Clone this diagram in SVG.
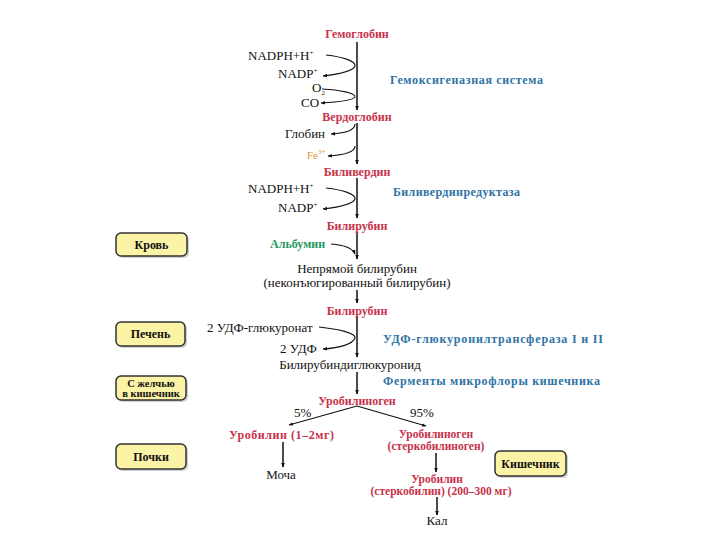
<svg xmlns="http://www.w3.org/2000/svg" width="720" height="540" viewBox="0 0 720 540" font-family="'Liberation Serif','Times New Roman','DejaVu Serif',serif">
<style>
text{font-family:'Liberation Serif','Times New Roman','DejaVu Serif',serif;}
.r{fill:#c8324a;font-weight:bold;font-size:12px;text-anchor:middle;}
.r2{fill:#c8324a;font-weight:bold;font-size:11.5px;text-anchor:middle;}
.rs{fill:#c8324a;font-weight:bold;font-size:12px;}
.b{fill:#2e74a6;font-weight:bold;font-size:12px;}
.k{fill:#111;font-size:13px;}
.km{fill:#111;font-size:13px;text-anchor:middle;}
.g{fill:#1f9a5e;font-weight:bold;font-size:12px;}
.o{fill:#e39a30;font-size:11px;}
.sup{font-size:7px;}
.box{fill:#fbf3a6;stroke:#333;stroke-width:1.5;}
.shadow{fill:#999;opacity:0.45;}
.bt{fill:#111;font-weight:bold;font-size:12px;text-anchor:middle;}
.bt2{fill:#111;font-weight:bold;font-size:10.5px;text-anchor:middle;}
.ln{stroke:#111;stroke-width:1.5;fill:none;}
.cv{stroke:#111;stroke-width:1.1;fill:none;}
</style>
<defs>
<marker id="ah" viewBox="0 0 10 10" refX="9" refY="5" markerWidth="5" markerHeight="5" orient="auto" markerUnits="userSpaceOnUse">
<path d="M0,1 L10,5 L0,9 z" fill="#111"/>
</marker>
<marker id="ahs" viewBox="0 0 10 10" refX="9" refY="5" markerWidth="4.5" markerHeight="4.5" orient="auto" markerUnits="userSpaceOnUse">
<path d="M0,1 L10,5 L0,9 z" fill="#111"/>
</marker>
</defs>
<rect width="720" height="540" fill="#fff"/>

<g id="connectors">
<path class="ln" d="M357 42 V110" marker-end="url(#ah)"/>
<path class="ln" d="M357 123 V164" marker-end="url(#ah)"/>
<path class="ln" d="M357 178 V218" marker-end="url(#ah)"/>
<path class="ln" d="M357 232 V259" marker-end="url(#ah)"/>
<path class="ln" d="M357 290 V303" marker-end="url(#ah)"/>
<path class="ln" d="M357 316 V357" marker-end="url(#ah)"/>
<path class="ln" d="M357 372 V394" marker-end="url(#ah)"/>
<path class="cv" d="M326 55 C343 57 356 61 355 66 C353 71 340 74 323 76" marker-end="url(#ahs)"/>
<path class="cv" d="M322 89 C340 90 356 93 355 97 C353 100 340 102 321 103" marker-end="url(#ahs)"/>
<path class="cv" d="M355 124 C355 130 348 133 331 134" marker-end="url(#ahs)"/>
<path class="cv" d="M355 146 C355 152 345 155 328 156" marker-end="url(#ahs)"/>
<path class="cv" d="M326 188 C343 190 356 194 355 199 C353 204 340 207 323 209" marker-end="url(#ahs)"/>
<path class="cv" d="M331 244 C345 245 353 249 355 254" marker-end="url(#ahs)"/>
<path class="cv" d="M319 327 C338 329 356 333 355 338 C353 344 340 348 323 349" marker-end="url(#ahs)"/>
<path class="cv" d="M357 406 L289 425" marker-end="url(#ahs)"/>
<path class="cv" d="M357 406 L426 426" marker-end="url(#ahs)"/>
<path class="ln" d="M283 442 V467" marker-end="url(#ah)"/>
<path class="ln" d="M436 453 V472" marker-end="url(#ah)"/>
<path class="ln" d="M437 497 V515" marker-end="url(#ah)"/>
</g>

<g id="n-hemoglobin"><text class="r" x="357" y="38">Гемоглобин</text></g>
<g id="n-nadph1"><text class="k" x="248" y="60">NADPH+H<tspan class="sup" dy="-5">+</tspan></text></g>
<g id="n-nadp1"><text class="k" x="278" y="78">NADP<tspan class="sup" dy="-5">+</tspan></text></g>
<g id="n-o2"><text class="k" x="312" y="92">O<tspan class="sup" dy="3">2</tspan></text></g>
<g id="n-co"><text class="k" x="301" y="107">CO</text></g>
<g id="n-hemox"><text class="b" x="390" y="84" textLength="153" lengthAdjust="spacing">Гемоксигеназная  система</text></g>
<g id="n-verdoglobin"><text class="r" x="357" y="121">Вердоглобин</text></g>
<g id="n-globin"><text class="k" x="285" y="138">Глобин</text></g>
<g id="n-fe"><text class="o" x="307" y="159">Fe<tspan class="sup" dy="-5">3+</tspan></text></g>
<g id="n-biliverdin"><text class="r" x="357" y="176">Биливердин</text></g>
<g id="n-nadph2"><text class="k" x="248" y="193">NADPH+H<tspan class="sup" dy="-5">+</tspan></text></g>
<g id="n-nadp2"><text class="k" x="278" y="212">NADP<tspan class="sup" dy="-5">+</tspan></text></g>
<g id="n-bvr"><text class="b" x="393" y="196" textLength="127" lengthAdjust="spacing">Биливердинредуктаза</text></g>
<g id="n-bilirubin1"><text class="r" x="357" y="230">Билирубин</text></g>
<g id="n-blood"><rect class="shadow" x="118" y="235" width="71" height="23" rx="5"/><rect class="box" x="116" y="233" width="71" height="23" rx="5"/><text class="bt" x="151.5" y="249">Кровь</text></g>
<g id="n-albumin"><text class="g" x="270" y="248">Альбумин</text></g>
<g id="n-indirect"><text class="km" x="357" y="273">Непрямой билирубин</text><text class="km" x="357" y="287">(неконъюгированный билирубин)</text></g>
<g id="n-bilirubin2"><text class="r" x="357" y="315">Билирубин</text></g>
<g id="n-liver"><rect class="shadow" x="118" y="324" width="69" height="24" rx="5"/><rect class="box" x="116" y="322" width="69" height="24" rx="5"/><text class="bt" x="150.5" y="338">Печень</text></g>
<g id="n-udpg"><text class="k" x="207" y="332">2 УДФ-глюкуронат</text></g>
<g id="n-udp"><text class="k" x="280" y="353">2 УДФ</text></g>
<g id="n-ugt"><text class="b" x="383" y="343" textLength="220" lengthAdjust="spacing">УДФ-глюкуронилтрансфераза I и II</text></g>
<g id="n-bdg"><text class="km" x="350" y="369">Билирубиндиглюкуронид</text></g>
<g id="n-bile"><rect class="shadow" x="118" y="378" width="70" height="24" rx="5"/><rect class="box" x="116" y="376" width="70" height="24" rx="5"/><text class="bt2" x="151" y="387">С желчью</text><text class="bt2" x="151" y="397">в кишечник</text></g>
<g id="n-microflora"><text class="b" x="383" y="385" textLength="217" lengthAdjust="spacing">Ферменты  микрофлоры кишечника</text></g>
<g id="n-urobilinogen"><text class="r" x="357" y="405">Уробилиноген</text></g>
<g id="n-5"><text class="k" x="294" y="417" font-size="11">5%</text></g>
<g id="n-95"><text class="k" x="410" y="417" font-size="11">95%</text></g>
<g id="n-urobilin1"><text class="rs" x="229" y="439" textLength="105" lengthAdjust="spacing">Уробилин  (1–2мг)</text></g>
<g id="n-urobilinogen2"><text class="r2" x="436" y="438">Уробилиноген</text><text class="r2" x="436" y="450">(стеркобилиноген)</text></g>
<g id="n-kidney"><rect class="shadow" x="118" y="446" width="70" height="25" rx="5"/><rect class="box" x="116" y="444" width="70" height="25" rx="5"/><text class="bt" x="151" y="461">Почки</text></g>
<g id="n-intestine"><rect class="shadow" x="497" y="453" width="71" height="25" rx="5"/><rect class="box" x="495" y="451" width="71" height="25" rx="5"/><text class="bt" x="530.5" y="468">Кишечник</text></g>
<g id="n-urine"><text class="km" x="281" y="479">Моча</text></g>
<g id="n-urobilin2"><text class="r2" x="437" y="483">Уробилин</text><text class="r2" x="441" y="495">(стеркобилин)  (200–300 мг)</text></g>
<g id="n-feces"><text class="km" x="437" y="525">Кал</text></g>
</svg>
